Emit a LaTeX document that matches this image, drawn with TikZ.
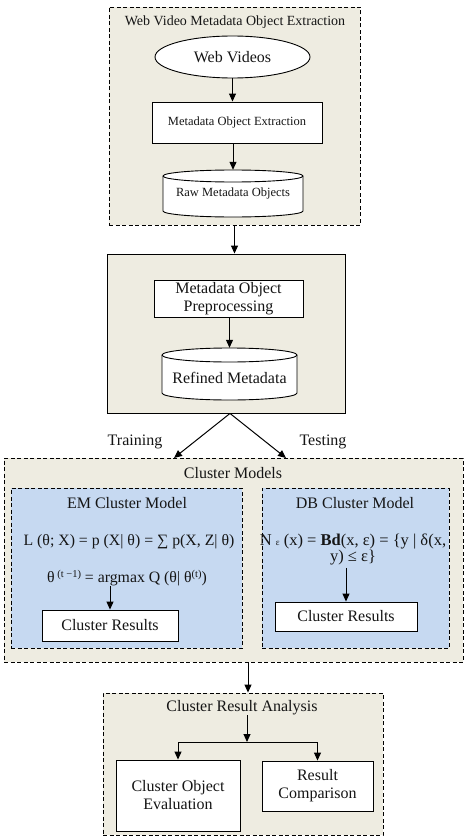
\documentclass[tikz,border=0pt]{standalone}
\usepackage{fontspec}
\setmainfont{Liberation Serif}
\usetikzlibrary{arrows.meta,shapes.geometric}
\definecolor{beige}{HTML}{EEECE1}
\definecolor{lblue}{HTML}{C6D9F1}
\definecolor{ink}{HTML}{151515}
% cylinder: cx, top, bottom, rx, ry
\newcommand\cylshape[5]{%
  \draw[line width=0.9pt, fill=white] ({#1-#4},{#2+#5}) -- ({#1-#4},{#3-#5})
    arc[start angle=180,end angle=360,x radius=#4pt,y radius=#5pt]
    -- ({#1+#4},{#2+#5})
    arc[start angle=0,end angle=180,x radius=#4pt,y radius=#5pt] -- cycle;
  \draw[line width=0.9pt] ({#1-#4},{#2+#5})
    arc[start angle=180,end angle=360,x radius=#4pt,y radius=#5pt];}
\begin{document}
\begin{tikzpicture}[x=1pt,y=-1pt,
  font=\fontsize{16}{18}\selectfont, text=ink,
  dashbox/.style={draw=black, line width=0.9pt, dash pattern=on 4pt off 2.5pt, inner sep=0pt},
  box/.style={draw=black, line width=0.9pt, fill=white, inner sep=0pt, align=center},
  lbl/.style={inner sep=0pt, align=center},
  small/.style={font=\fontsize{12.5}{14}\selectfont},
  formula/.style={font=\fontsize{15.8}{16}\selectfont},
  arr/.style={-{Triangle[length=8pt,width=7pt]}, line width=1pt},
  ln/.style={line width=1pt}]
\useasboundingbox[fill=white] (0,0) rectangle (468,840);

% ---- top container
\node[dashbox, fill=beige, minimum width=251pt, minimum height=218pt] (webbox) at (234.5,116) {};
\node[lbl, font=\fontsize{14}{16}\selectfont] (webtitle) at (235,22) {Web Video Metadata Object Extraction};
\node[ellipse, draw=black, line width=0.9pt, fill=white, minimum width=155pt, minimum height=42pt, inner sep=0pt] (videos) at (232.5,57) {Web Videos};
\node[box, small, minimum width=170pt, minimum height=41pt] (extract) at (237,122.5) {Metadata Object Extraction};
\cylshape{233}{170}{217}{70}{6}
\node[lbl, small, minimum width=140pt, minimum height=46pt] (raw) at (233,193) {Raw Metadata Objects};

% ---- preprocessing container
\node[draw=black, line width=0.9pt, fill=beige, minimum width=238pt, minimum height=159pt, inner sep=0pt] (procbox) at (226,333.5) {};
\node[box, minimum width=149pt, minimum height=37pt] (prep) at (228.5,298.5) {Metadata Object\\Preprocessing};
\cylshape{229.5}{348}{400}{67.5}{7}
\node[lbl, minimum width=135pt, minimum height=60pt] (refined) at (229.5,378) {Refined Metadata};

\node[lbl] (training) at (135,442) {Training};
\node[lbl] (testing) at (323,442) {Testing};
\coordinate (trainend) at (174,458);
\coordinate (testend) at (286,458);

% ---- cluster models
\node[dashbox, fill=beige, minimum width=459pt, minimum height=204pt] (cluster) at (233.5,560) {};
\node[lbl] (clustertitle) at (233,473) {Cluster Models};
\node[dashbox, fill=lblue, minimum width=231pt, minimum height=160pt] (em) at (126.5,568) {};
\node[lbl] (emtitle) at (127,503) {EM Cluster Model};
\node[lbl, formula] (emf1) at (129,542) {L (θ; X) = p (X| θ) = ∑ p(X, Z| θ)};
\node[lbl, formula] (emf2) at (127,578) {θ\,{\fontsize{10.5}{10}\selectfont\raisebox{5pt}{(t −1)}} = argmax Q (θ| θ{\fontsize{10.5}{10}\selectfont\raisebox{5pt}{(t)}})};
\node[box, minimum width=136pt, minimum height=31pt] (emres) at (110,625.5) {Cluster Results};

\node[dashbox, fill=lblue, minimum width=187pt, minimum height=160pt] (db) at (355.5,568) {};
\node[lbl] (dbtitle) at (355,503) {DB Cluster Model};
\node[lbl, font=\fontsize{16.5}{16}\selectfont, inner sep=2pt] (dbf) at (353,550) {N {\fontsize{9}{9}\selectfont ε} (x) = \textbf{Bd}(x, ε) = \{y | δ(x,\\ y) ≤ ε\}};
\node[box, minimum width=142pt, minimum height=29pt] (dbres) at (346,616.5) {Cluster Results};

% ---- analysis
\node[dashbox, fill=beige, minimum width=280pt, minimum height=142pt] (analysis) at (243,764) {};
\node[lbl] (antitle) at (242,708) {Cluster Result Analysis};
\node[box, minimum width=124pt, minimum height=71pt] (evalbox) at (178,795.5) {Cluster Object\\Evaluation};
\node[box, minimum width=111pt, minimum height=50pt] (compbox) at (317.5,786) {Result\\Comparison};
\coordinate (split) at (247,742);
\coordinate (clout) at ([xshift=14.5pt]cluster.south);

% ---- connectors
\draw[arr] (videos.south) -- (videos.south |- extract.north);
\draw[arr] (extract.south -| raw.north) -- (raw.north);
\draw[arr] (webbox.south) -- (webbox.south |- procbox.north);
\draw[arr] (prep.south -| refined.north) -- (refined.north);
\draw[arr] ([xshift=4pt]procbox.south) -- (trainend);
\draw[arr] ([xshift=4pt]procbox.south) -- (testend);
\draw[arr] (emres.north |- emf2.south) -- (emres.north);
\draw[arr] (dbres.north |- dbf.south) -- (dbres.north);
\draw[arr] (clout) -- (clout |- analysis.north);
\draw[arr] ([xshift=5pt]antitle.south) -- (split);
\draw[ln] (evalbox.north |- split) -- (compbox.north |- split);
\draw[arr] (evalbox.north |- split) -- (evalbox.north);
\draw[arr] (compbox.north |- split) -- (compbox.north);
\end{tikzpicture}
\end{document}
